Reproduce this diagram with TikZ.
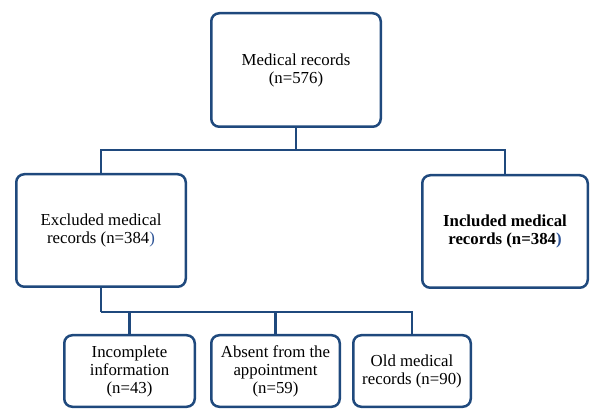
\documentclass[tikz,border=0pt]{standalone}
\usepackage{fontspec}
\setmainfont{Liberation Serif}
\definecolor{boxblue}{RGB}{31,73,125}
\definecolor{parenblue}{RGB}{46,84,150}
\begin{document}
\begin{tikzpicture}[x=1pt,y=-1pt,
  fbox/.style={draw=boxblue, line width=2.5pt, rounded corners=8pt, align=center,
    inner sep=2pt, font=\fontsize{16.8}{18}\selectfont},
  conn/.style={draw=boxblue, line width=2.5pt, line join=miter}]
\useasboundingbox (0,0) rectangle (590,409);
\node[fbox, minimum width=169.5pt, minimum height=113.5pt] (top) at (296,70) {Medical records\\(n=576)};
\node[fbox, minimum width=169.5pt, minimum height=112.5pt] (left) at (101,230.5) {Excluded medical\\records (n=384\textcolor{parenblue}{)}};
\node[fbox, minimum width=165.5pt, minimum height=112.5pt] (right) at (505,231.5) {\textbf{Included medical}\\\textbf{records (n=384\textcolor{parenblue}{)}}};
\node[fbox, minimum width=130.5pt, minimum height=71.5pt] (b1) at (129.5,371) {Incomplete\\information\\(n=43)};
\node[fbox, minimum width=128.5pt, minimum height=71.5pt] (b2) at (275.5,371) {Absent from the\\appointment\\(n=59)};
\node[fbox, minimum width=117.5pt, minimum height=71.5pt] (b3) at (412,371) {Old medical\\records (n=90)};
\coordinate (j1) at (296,150);
\coordinate (j2) at (101,312);
\draw[conn] (top.south) -- (j1);
\draw[conn] (left.north) |- (j1) -| (right.north);
\draw[conn] (left.south) -- (j2);
\draw[conn] (b1.north) |- (j2);
\draw[conn] (j2) -| (b3.north);
\draw[conn] (b2.north) -- (b2.north |- j2);
\end{tikzpicture}
\end{document}
